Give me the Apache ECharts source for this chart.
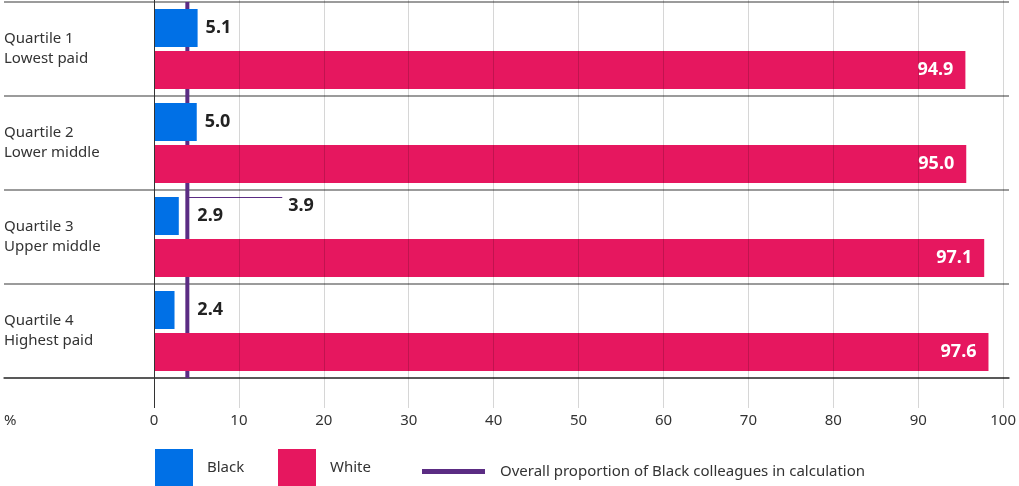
<!DOCTYPE html>
<html>
<head>
<meta charset="utf-8">
<script src="https://cdn.jsdelivr.net/npm/echarts@6/dist/echarts.min.js"></script>
<style>html,body{margin:0;padding:0;background:#fff}#c{width:1019px;height:486px}</style>
</head>
<body>
<div id="c"></div>
<script>
const categories = ['Quartile 1\nLowest paid', 'Quartile 2\nLower middle', 'Quartile 3\nUpper middle', 'Quartile 4\nHighest paid'];
const blackValues = [5.1, 5.0, 2.9, 2.4];
const whiteValues = [94.9, 95.0, 97.1, 97.6];
const overallValue = 3.9;
const annotationCategory = 2;
const annotationEnd = 15;
const seriesNames = ['Black', 'White', 'Overall proportion of Black colleagues in calculation'];
const axisMin = 0, axisMax = 100, axisInterval = 10;
const axisUnit = '%';

const FONT = '"Noto Sans", sans-serif';
const BLUE = '#0070e6', PINK = '#e6175f', PURPLE = '#5b2c83';
const BAR_W = 38, BAR_GAP = 4;

const chart = echarts.init(document.getElementById('c'), null, {renderer: 'canvas'});

const gridColors = [];
for (let v = axisMin; v <= axisMax; v += axisInterval) gridColors.push(v === 0 ? '#333' : 'rgba(0,0,0,0.16)');

function buildOption(blackOffsets) {
  return {
    animation: false,
    textStyle: {fontFamily: FONT},
    grid: [
      {left: 154, right: 10, top: 2, height: 376},
      {left: 154, right: 10, top: 0, height: 408},
      {left: 4, right: 10, top: 2, height: 376}
    ],
    xAxis: [
      {gridIndex: 0, type: 'value', min: axisMin, max: axisMax, interval: axisInterval, show: false},
      {gridIndex: 1, type: 'value', min: axisMin, max: axisMax, interval: axisInterval, z: 10,
        axisLine: {show: false}, axisTick: {show: false},
        splitLine: {show: true, lineStyle: {color: gridColors, width: 1}},
        axisLabel: {fontSize: 15, color: '#333', margin: 5, fontFamily: FONT},
        name: axisUnit, nameLocation: 'start', nameGap: 150,
        nameTextStyle: {fontSize: 15, color: '#333', align: 'left', verticalAlign: 'top', padding: [5, 0, 0, 0], fontFamily: FONT}
      },
      {gridIndex: 2, type: 'value', min: axisMin, max: axisMax, show: true,
        axisLine: {show: true, lineStyle: {color: '#444', width: 1.5}},
        axisTick: {show: false}, axisLabel: {show: false}, splitLine: {show: false}}
    ],
    yAxis: [
      {gridIndex: 0, type: 'category', data: categories, inverse: true,
        axisLine: {show: false}, axisTick: {show: false}, splitLine: {show: false},
        axisLabel: {align: 'left', margin: 150, fontSize: 15, lineHeight: 20, color: '#333', fontFamily: FONT}},
      {gridIndex: 1, type: 'value', show: false},
      {gridIndex: 2, type: 'category', data: categories, inverse: true,
        axisLine: {show: false}, axisTick: {show: false}, axisLabel: {show: false},
        splitLine: {show: true, lineStyle: {color: '#7a7a7a', width: 1.5}}}
    ],
    legend: [
      {data: [seriesNames[0]], left: 155, top: 449, padding: 0, itemWidth: 38, itemHeight: 38, icon: 'rect', itemGap: 0,
        textStyle: {fontSize: 15, color: '#333', padding: [5, 0, 0, 9], fontFamily: FONT}},
      {data: [seriesNames[1]], left: 278, top: 449, padding: 0, itemWidth: 38, itemHeight: 38, icon: 'rect', itemGap: 0,
        textStyle: {fontSize: 15, color: '#333', padding: [5, 0, 0, 9], fontFamily: FONT}},
      {data: [seriesNames[2]], left: 422, top: 464, padding: 0, itemWidth: 63, itemHeight: 5, icon: 'rect', itemGap: 0,
        textStyle: {fontSize: 15, color: '#333', padding: [0, 0, 0, 10], fontFamily: FONT}}
    ],
    series: [
      {
        name: seriesNames[0], type: 'bar', xAxisIndex: 0, yAxisIndex: 0, z: 3,
        barWidth: BAR_W, barGap: (BAR_GAP / BAR_W * 100) + '%',
        itemStyle: {color: BLUE},
        data: blackValues.map((v, i) => ({value: v, label: {offset: [blackOffsets ? blackOffsets[i] : 0, 0]}})),
        label: {show: true, position: 'right', distance: 8, formatter: p => p.value.toFixed(1),
          fontSize: 18, fontWeight: 'bold', color: '#222', fontFamily: FONT}
      },
      {
        name: seriesNames[1], type: 'bar', xAxisIndex: 0, yAxisIndex: 0, z: 3,
        barWidth: BAR_W,
        itemStyle: {color: PINK},
        data: whiteValues,
        label: {show: true, position: 'insideRight', distance: 12, formatter: p => p.value.toFixed(1),
          fontSize: 18, fontWeight: 'bold', color: '#fff', fontFamily: FONT}
      },
      {
        name: seriesNames[2], type: 'custom', xAxisIndex: 0, yAxisIndex: 0, z: 2,
        itemStyle: {color: PURPLE},
        encode: {x: 0, y: 1},
        data: [[overallValue, annotationCategory]],
        renderItem: function (params, api) {
          const cs = params.coordSys;
          const x = api.coord([api.value(0), 0])[0];
          const yc = api.coord([0, api.value(1)])[1];
          const yLead = Math.round(yc - BAR_W - BAR_GAP / 2) + 0.5;
          const xEnd = api.coord([annotationEnd, 0])[0];
          return {
            type: 'group',
            children: [
              {type: 'line', shape: {x1: x, y1: cs.y, x2: x, y2: cs.y + cs.height}, style: {stroke: PURPLE, lineWidth: 4}},
              {type: 'line', shape: {x1: x, y1: yLead, x2: xEnd, y2: yLead}, style: {stroke: PURPLE, lineWidth: 1}},
              {type: 'text', x: xEnd + 6, y: yLead + 8,
                style: {text: api.value(0).toFixed(1), font: 'bold 18px ' + FONT, fill: '#222', verticalAlign: 'middle', align: 'left'}}
            ]
          };
        }
      }
    ]
  };
}

chart.setOption(buildOption(null));
// push small-bar labels past the overall line, using the chart's own scale
const lineX = chart.convertToPixel({xAxisIndex: 0}, overallValue);
const offsets = blackValues.map(v => {
  const endX = chart.convertToPixel({xAxisIndex: 0}, v);
  return endX < lineX + 2 ? (lineX + 2 - endX) : 0;
});
chart.setOption(buildOption(offsets));
</script>
</body>
</html>
